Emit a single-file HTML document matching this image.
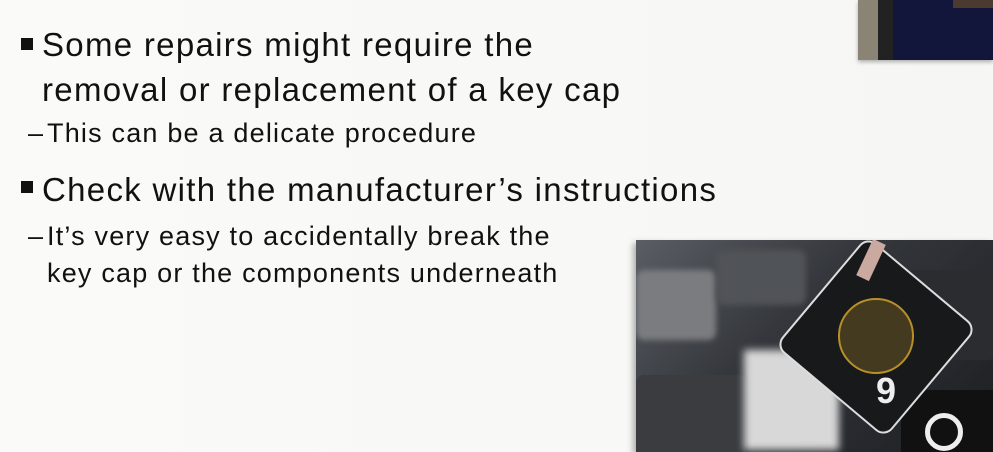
<!DOCTYPE html>
<html><head><meta charset="utf-8"><style>
body{margin:0;width:993px;height:452px;overflow:hidden;background:linear-gradient(90deg,#fafaf8,#f6f6f4);font-family:"Liberation Sans","DejaVu Sans",sans-serif;color:#111;position:relative}
.t{position:absolute;white-space:nowrap}
.b1{font-size:33px;letter-spacing:1.3px}
.b2{font-size:27px;letter-spacing:1.2px}
.sq{position:absolute;width:12px;height:12px;background:#111}
</style></head><body>
<div style="position:absolute;left:858px;top:0;width:135px;height:60px;background:#12163a;box-shadow:0 2px 4px rgba(0,0,0,.3)">
<div style="position:absolute;left:0;top:0;width:20px;height:60px;background:#8a8474"></div>
<div style="position:absolute;left:20px;top:0;width:15px;height:60px;background:#222"></div>
<div style="position:absolute;left:95px;top:0;width:40px;height:8px;background:#4a3a30"></div>
</div>
<div class="sq" style="left:21px;top:38px"></div>
<div class="t b1" style="left:42px;top:26px">Some repairs might require the</div>
<div class="t b1" style="left:42px;top:71px">removal or replacement of a key cap</div>
<div class="t b2" style="left:28px;top:118px">–</div>
<div class="t b2" style="left:47px;top:118px">This can be a delicate procedure</div>
<div class="sq" style="left:21px;top:181px"></div>
<div class="t b1" style="left:42px;top:171px">Check with the manufacturer’s instructions</div>
<div class="t b2" style="left:28px;top:221px">–</div>
<div class="t b2" style="left:47px;top:221px">It’s very easy to accidentally break the</div>
<div class="t b2" style="left:47px;top:258px">key cap or the components underneath</div>
<div style="position:absolute;left:636px;top:240px;width:357px;height:212px;overflow:hidden;background:linear-gradient(135deg,#5a5e64 0%,#34373c 40%,#1c1e22 100%);box-shadow:-3px 3px 6px rgba(0,0,0,.3)">
<div style="position:absolute;left:0;top:30px;width:80px;height:70px;background:#7a7c80;border-radius:8px;filter:blur(3px)"></div>
<div style="position:absolute;left:80px;top:10px;width:90px;height:55px;background:#505357;border-radius:8px;filter:blur(3px)"></div>
<div style="position:absolute;left:0;top:135px;width:110px;height:90px;background:#3a3c40;border-radius:8px"></div>
<div style="position:absolute;left:108px;top:110px;width:95px;height:100px;background:#d8d8d8;filter:blur(4px)"></div>
<div style="position:absolute;left:270px;top:30px;width:90px;height:90px;background:#2a2c30;border-radius:8px"></div>
<div style="position:absolute;left:265px;top:150px;width:100px;height:70px;background:#111;border-radius:10px"></div>
<div style="position:absolute;left:289px;top:173px;width:28px;height:28px;border:5px solid #eee;border-radius:50%"></div>
<div style="position:absolute;left:168px;top:25px;width:140px;height:140px;background:#18191b;border-radius:12px;transform:rotate(40deg);border:2px solid #ddd"></div>
<div style="position:absolute;left:202px;top:58px;width:72px;height:72px;border-radius:50%;background:rgba(150,120,40,.35);border:2px solid #b8902a"></div>
<div style="position:absolute;left:240px;top:130px;color:#eee;font-size:36px;font-weight:bold">9</div>
<div style="position:absolute;left:228px;top:0;width:14px;height:40px;background:#c9a9a0;transform:rotate(25deg)"></div>
</div>
</body></html>
